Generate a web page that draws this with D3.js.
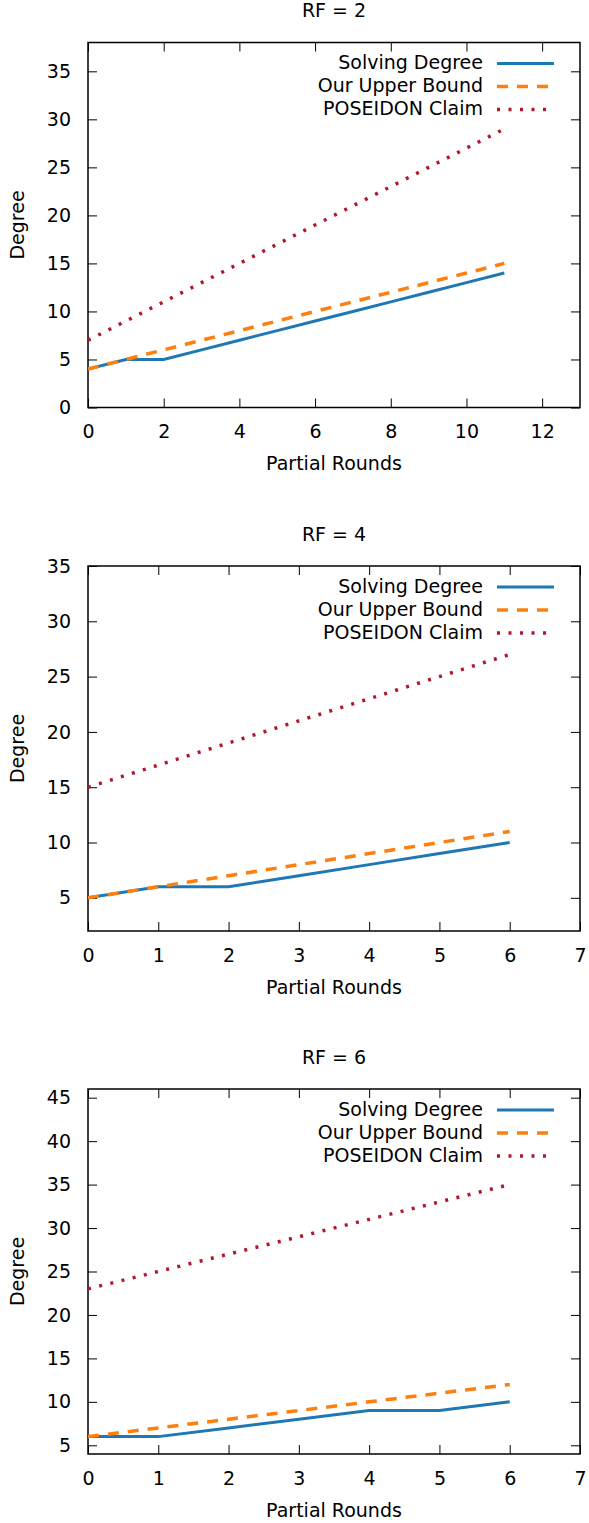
<!DOCTYPE html>
<html>
<head>
<meta charset="utf-8">
<script src="https://cdn.jsdelivr.net/npm/d3@7"></script>
<style>
  html, body { margin: 0; padding: 0; background: #fff; }
  svg { display: block; }
  text { font-family: "DejaVu Sans", sans-serif; fill: #000; }
</style>
</head>
<body>
<svg id="chart" width="589" height="1523"></svg>
<script>
// ---------- DATA ----------
const seriesNames = ["Solving Degree", "Our Upper Bound", "POSEIDON Claim"];

const rf2Rounds   = [0, 1, 2, 3, 4, 5, 6, 7, 8, 9, 10, 11];
const rf2Solving  = [4, 5, 5, 6, 7, 8, 9, 10, 11, 12, 13, 14];
const rf2Upper    = [4, 5, 6, 7, 8, 9, 10, 11, 12, 13, 14, 15];
const rf2Poseidon = [7, 9, 11, 13, 15, 17, 19, 21, 23, 25, 27, 29];
const rf2XTicks   = [0, 2, 4, 6, 8, 10, 12];
const rf2YTicks   = [0, 5, 10, 15, 20, 25, 30, 35];

const rf4Rounds   = [0, 1, 2, 3, 4, 5, 6];
const rf4Solving  = [5, 6, 6, 7, 8, 9, 10];
const rf4Upper    = [5, 6, 7, 8, 9, 10, 11];
const rf4Poseidon = [15, 17, 19, 21, 23, 25, 27];
const rf4XTicks   = [0, 1, 2, 3, 4, 5, 6, 7];
const rf4YTicks   = [5, 10, 15, 20, 25, 30, 35];

const rf6Rounds   = [0, 1, 2, 3, 4, 5, 6];
const rf6Solving  = [6, 6, 7, 8, 9, 9, 10];
const rf6Upper    = [6, 7, 8, 9, 10, 11, 12];
const rf6Poseidon = [23, 25, 27, 29, 31, 33, 35];
const rf6XTicks   = [0, 1, 2, 3, 4, 5, 6, 7];
const rf6YTicks   = [5, 10, 15, 20, 25, 30, 35, 40, 45];

const panels = [
  { title: "RF = 2", x: rf2Rounds, series: [rf2Solving, rf2Upper, rf2Poseidon],
    xDomain: [0, 13], yDomain: [0, 38], xTicks: rf2XTicks, yTicks: rf2YTicks, top: 42.5 },
  { title: "RF = 4", x: rf4Rounds, series: [rf4Solving, rf4Upper, rf4Poseidon],
    xDomain: [0, 7], yDomain: [2, 35], xTicks: rf4XTicks, yTicks: rf4YTicks, top: 566 },
  { title: "RF = 6", x: rf6Rounds, series: [rf6Solving, rf6Upper, rf6Poseidon],
    xDomain: [0, 7], yDomain: [4, 46], xTicks: rf6XTicks, yTicks: rf6YTicks, top: 1089 }
];

// ---------- STYLE ----------
const colors = ["#1f77b4", "#ff7f0e", "#b2182b"];
const widths = [3, 3.5, 3.5];
const dashes = [null, "11,9", "3,8.5"];
const fontSize = 19;
const left = 88, right = 580, plotH = 365, tickLen = 9;

const svg = d3.select("#chart");

panels.forEach(p => {
  const g = svg.append("g");
  const x = d3.scaleLinear().domain(p.xDomain).range([left, right]);
  const y = d3.scaleLinear().domain(p.yDomain).range([p.top + plotH, p.top]);
  const bottom = p.top + plotH;

  // title
  g.append("text").attr("x", (left + right) / 2).attr("y", p.top - 31)
    .attr("text-anchor", "middle").attr("dominant-baseline", "middle")
    .style("font-size", fontSize + "px").text(p.title);

  // axes (ticks inward, mirrored)
  const axB = g.append("g").attr("transform", `translate(0,${bottom})`)
    .call(d3.axisBottom(x).tickValues(p.xTicks).tickSize(-tickLen).tickPadding(tickLen + 7).tickFormat(d3.format("d")));
  const axT = g.append("g").attr("transform", `translate(0,${p.top})`)
    .call(d3.axisTop(x).tickValues(p.xTicks).tickSize(-tickLen).tickFormat(""));
  const axL = g.append("g").attr("transform", `translate(${left},0)`)
    .call(d3.axisLeft(y).tickValues(p.yTicks).tickSize(-tickLen).tickPadding(tickLen + 8).tickFormat(d3.format("d")));
  const axR = g.append("g").attr("transform", `translate(${right},0)`)
    .call(d3.axisRight(y).tickValues(p.yTicks).tickSize(-tickLen).tickFormat(""));
  [axB, axT, axL, axR].forEach(a => {
    a.select(".domain").remove();
    a.selectAll("line").attr("stroke", "#000").attr("stroke-width", 1);
    a.selectAll("text").style("font-size", fontSize + "px").style("font-family", "'DejaVu Sans', sans-serif").attr("fill", "#000");
  });
  axB.selectAll("text").attr("dy", "0.35em").attr("y", 24);

  // frame
  g.append("rect").attr("x", left).attr("y", p.top).attr("width", right - left).attr("height", plotH)
    .attr("fill", "none").attr("stroke", "#000").attr("stroke-width", 1.5);

  // axis labels
  g.append("text").attr("x", (left + right) / 2).attr("y", bottom + 57)
    .attr("text-anchor", "middle").attr("dominant-baseline", "middle")
    .style("font-size", fontSize + "px").text("Partial Rounds");
  g.append("text").attr("transform", `translate(18,${p.top + plotH / 2}) rotate(-90)`)
    .attr("text-anchor", "middle").attr("dominant-baseline", "middle")
    .style("font-size", fontSize + "px").text("Degree");

  // lines
  const clipId = "clip" + p.title.replace(/\W/g, "");
  g.append("clipPath").attr("id", clipId).append("rect")
    .attr("x", left).attr("y", p.top).attr("width", right - left).attr("height", plotH);
  p.series.forEach((vals, i) => {
    const line = d3.line().x((d, j) => x(p.x[j])).y(d => y(d));
    g.append("path").datum(vals).attr("d", line)
      .attr("clip-path", `url(#${clipId})`)
      .attr("fill", "none").attr("stroke", colors[i]).attr("stroke-width", widths[i])
      .attr("stroke-dasharray", dashes[i]);
  });

  // legend
  seriesNames.forEach((name, i) => {
    const ly = p.top + 21 + i * 23;
    g.append("text").attr("x", 483).attr("y", ly).attr("text-anchor", "end")
      .attr("dominant-baseline", "middle").style("font-size", fontSize + "px").text(name);
    g.append("line").attr("x1", 497).attr("x2", 554).attr("y1", ly).attr("y2", ly)
      .attr("stroke", colors[i]).attr("stroke-width", widths[i]).attr("stroke-dasharray", dashes[i]);
  });
});
</script>
</body>
</html>
